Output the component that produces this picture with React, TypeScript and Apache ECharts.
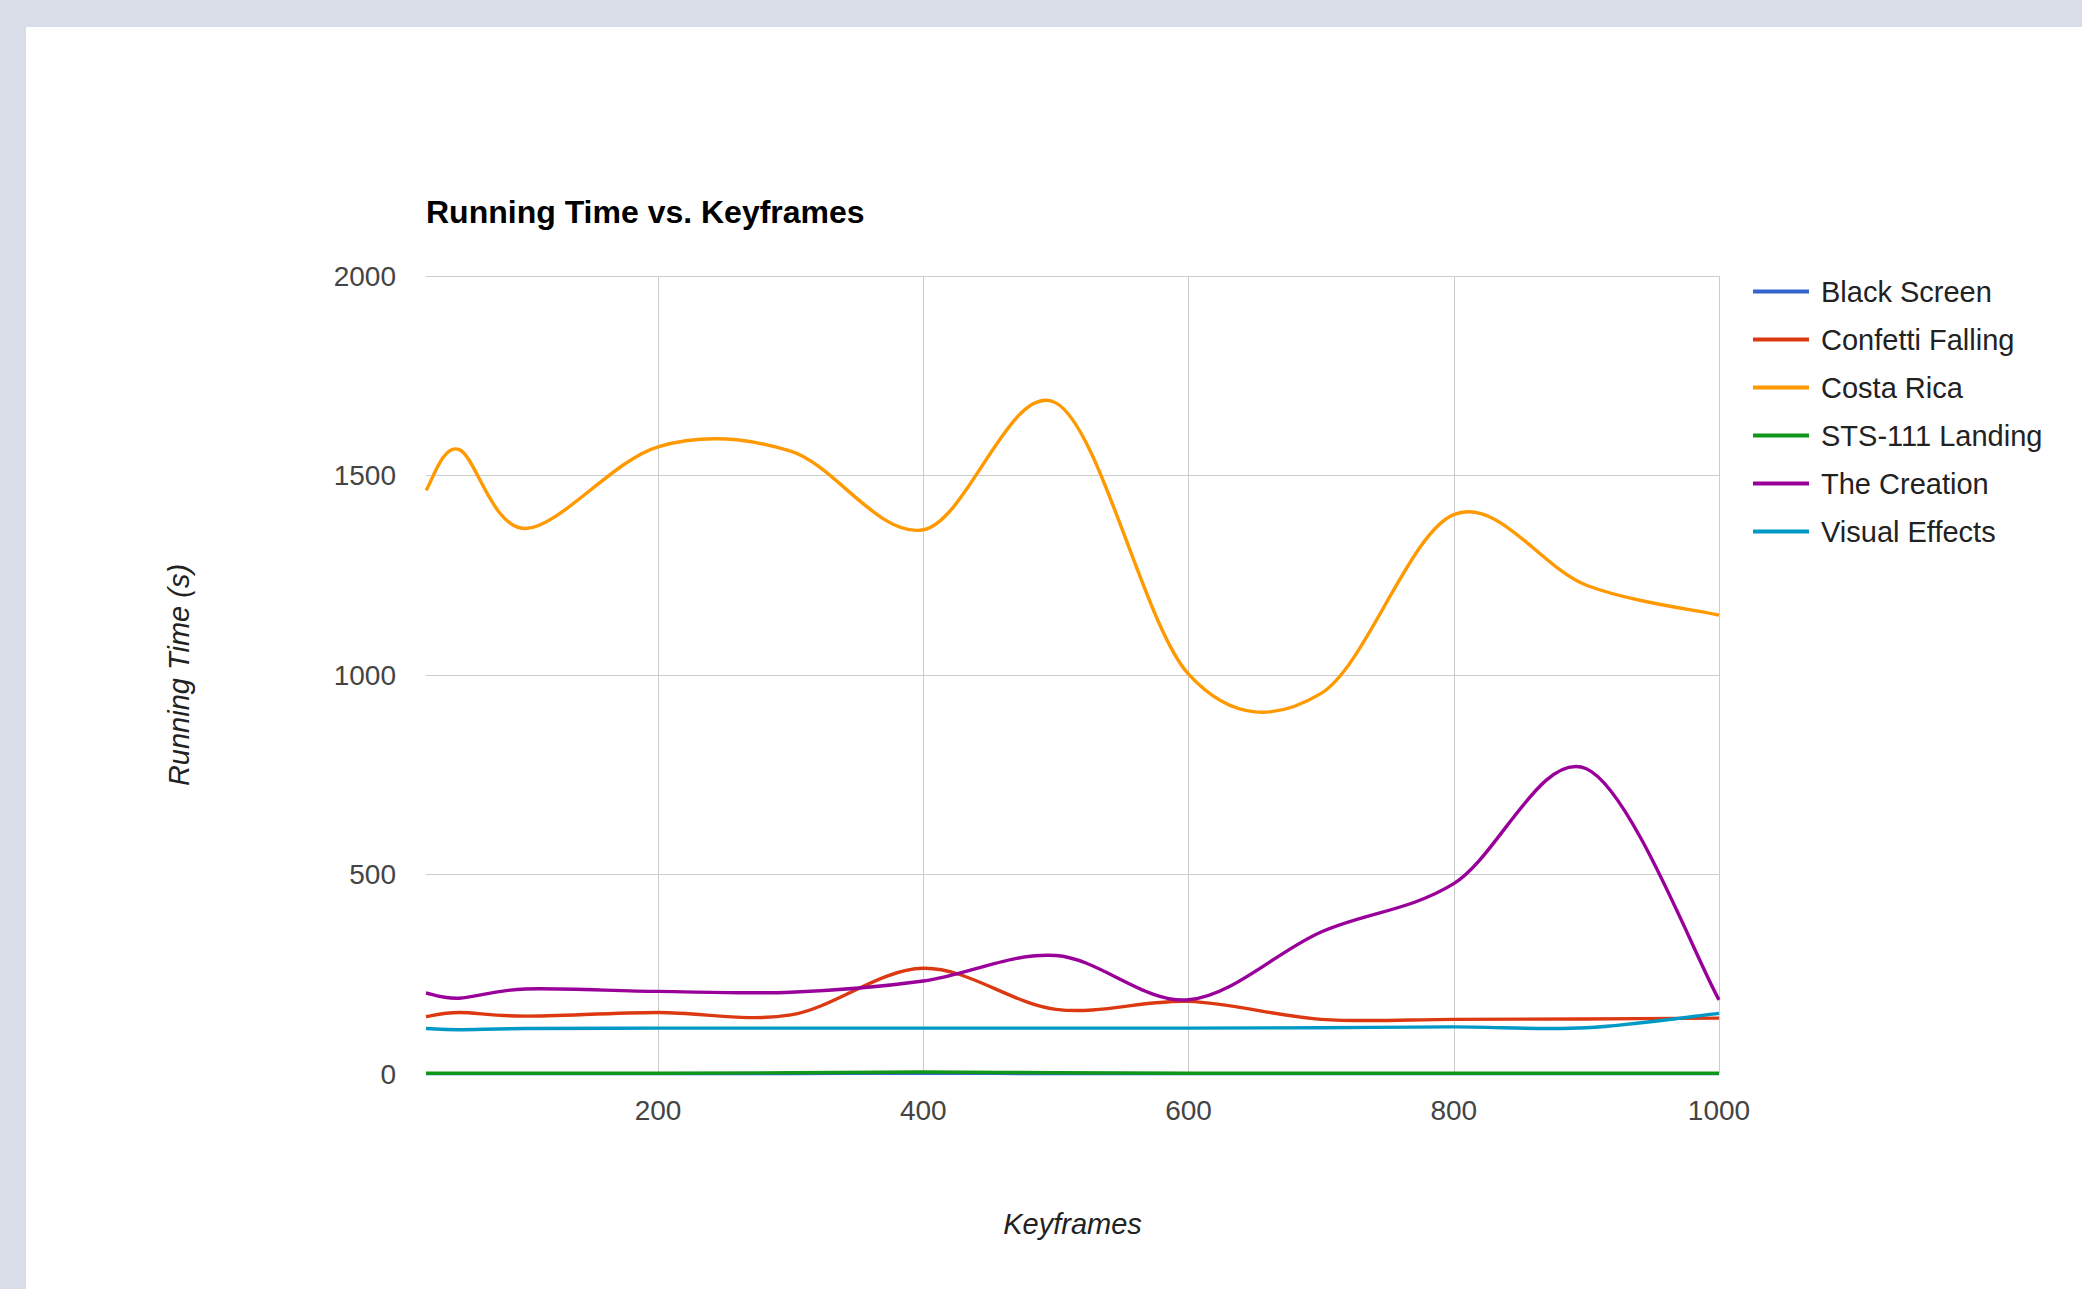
import React, { useEffect, useRef } from "react";
import * as echarts from "echarts";

const keyframes = [25, 50, 100, 200, 300, 400, 500, 600, 700, 800, 900, 1000];
const blackScreen = [1, 1, 1, 1, 1, 2, 1, 1, 1, 1, 1, 1];
const confettiFalling = [144, 154, 145, 154, 148, 265, 162, 182, 137, 137, 138, 140];
const costaRica = [1463, 1565, 1367, 1572, 1561, 1364, 1682, 1002, 954, 1402, 1225, 1150];
const sts111Landing = [2, 2, 2, 2, 3, 5, 3, 2, 2, 2, 2, 2];
const theCreation = [203, 190, 213, 207, 205, 233, 297, 186, 356, 477, 765, 186];
const visualEffects = [114, 111, 114, 115, 115, 115, 115, 115, 116, 118, 116, 152];

const seriesNames = ["Black Screen", "Confetti Falling", "Costa Rica", "STS-111 Landing", "The Creation", "Visual Effects"];
const seriesValues = [blackScreen, confettiFalling, costaRica, sts111Landing, theCreation, visualEffects];
const seriesColors = ["#3366cc", "#dc3912", "#ff9900", "#109618", "#990099", "#0099c6"];

const xTickValues = [200, 400, 600, 800, 1000];
const yMin = 0;
const yMax = 2000;
const yInterval = 500;
const xMin = 25;
const xMax = 1000;

const FONT = "Arial, 'Liberation Sans', sans-serif";

// Smooth curve (Catmull-Rom as cubic Bézier) through the points placed by the axes' scales
function makeRenderItem(values: number[], color: string) {
  return (params: any, api: any) => {
    if (params.dataIndex !== 0) return null;
    const pts: number[][] = keyframes.map((x, j) => api.coord([x, values[j]]));
    const n = pts.length;
    let d = `M${pts[0][0]},${pts[0][1]}`;
    for (let k = 0; k < n - 1; k++) {
      const p0 = pts[Math.max(k - 1, 0)];
      const p1 = pts[k];
      const p2 = pts[k + 1];
      const p3 = pts[Math.min(k + 2, n - 1)];
      const c1x = p1[0] + (p2[0] - p0[0]) / 6;
      const c1y = p1[1] + (p2[1] - p0[1]) / 6;
      const c2x = p2[0] - (p3[0] - p1[0]) / 6;
      const c2y = p2[1] - (p3[1] - p1[1]) / 6;
      d += ` C${c1x},${c1y} ${c2x},${c2y} ${p2[0]},${p2[1]}`;
    }
    return {
      type: "path",
      shape: { pathData: d },
      style: { stroke: color, lineWidth: 3.4, fill: "none", lineJoin: "round", lineCap: "butt" },
    };
  };
}

export default function App() {
  const ref = useRef<HTMLDivElement>(null);

  useEffect(() => {
    if (!ref.current) return;
    const chart = echarts.init(ref.current, null, { renderer: "svg" });
    chart.setOption({
      animation: false,
      backgroundColor: "transparent",
      textStyle: { fontFamily: FONT },
      title: {
        text: "Running Time vs. Keyframes",
        left: 426,
        top: 196,
        padding: 0,
        textStyle: { fontFamily: FONT, fontSize: 32, fontWeight: "bold", color: "#000000" },
      },
      legend: {
        orient: "vertical",
        left: 1753,
        top: 277,
        padding: 0,
        itemGap: 19,
        itemWidth: 56,
        itemHeight: 4,
        icon: "rect",
        textStyle: { fontFamily: FONT, fontSize: 29, color: "#222222", padding: [0, 0, 0, 7], lineHeight: 28 },
        data: seriesNames,
      },
      grid: { left: 426, top: 276, width: 1293, height: 798, containLabel: false },
      xAxis: {
        type: "value",
        min: xMin,
        max: xMax,
        name: "Keyframes",
        nameLocation: "middle",
        nameGap: 135,
        nameTextStyle: { fontFamily: FONT, fontSize: 29, fontStyle: "italic", color: "#222222" },
        axisLine: { show: false },
        axisTick: { show: false, customValues: xTickValues },
        axisLabel: {
          customValues: xTickValues,
          margin: 22,
          fontFamily: FONT,
          fontSize: 28,
          color: "#444444",
          formatter: (v: number) => String(v),
        },
        splitLine: { show: true, lineStyle: { color: "#cccccc", width: 1 } },
      },
      yAxis: {
        type: "value",
        min: yMin,
        max: yMax,
        interval: yInterval,
        name: "Running Time (s)",
        nameLocation: "middle",
        nameGap: 233,
        nameTextStyle: { fontFamily: FONT, fontSize: 29, fontStyle: "italic", color: "#222222" },
        axisLine: { show: false },
        axisTick: { show: false },
        axisLabel: {
          margin: 30,
          fontFamily: FONT,
          fontSize: 28,
          color: "#444444",
          formatter: (v: number) => String(v),
        },
        splitLine: { show: true, lineStyle: { color: "#cccccc", width: 1 } },
      },
      series: seriesNames.map((name, i) => ({
        name,
        type: "custom",
        coordinateSystem: "cartesian2d",
        encode: { x: 0, y: 1 },
        itemStyle: { color: seriesColors[i] },
        renderItem: makeRenderItem(seriesValues[i], seriesColors[i]),
        data: keyframes.map((x, j) => [x, seriesValues[i][j]]),
      })),
    });
    return () => chart.dispose();
  }, []);

  return (
    <div style={{ position: "fixed", left: 0, top: 0, width: 2082, height: 1289, background: "#d9dde8" }}>
      <div style={{ position: "absolute", left: 26, top: 27, right: 0, bottom: 0, background: "#ffffff" }} />
      <div ref={ref} style={{ position: "absolute", left: 0, top: 0, width: 2082, height: 1289 }} />
    </div>
  );
}
